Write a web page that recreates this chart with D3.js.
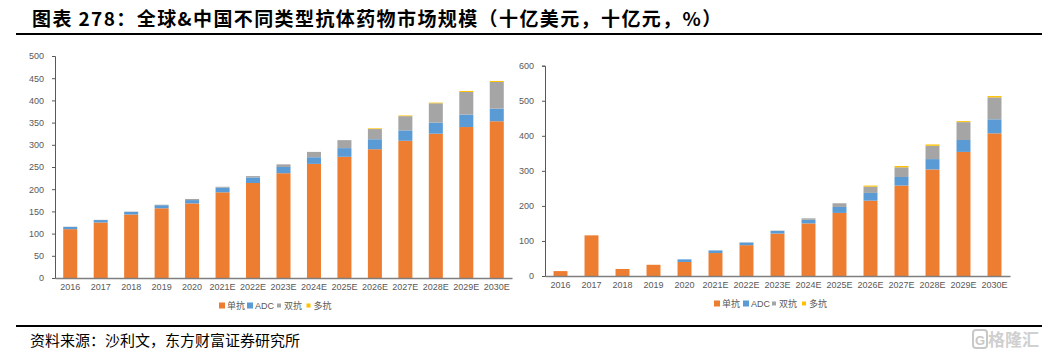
<!DOCTYPE html>
<html><head><meta charset="utf-8">
<script src="https://cdn.jsdelivr.net/npm/d3@7/dist/d3.min.js"></script>
<style>
html,body{margin:0;padding:0;background:#fff;}
svg{display:block;}
</style></head>
<body>
<svg id="c" width="1047" height="356"></svg>
<script>
const years = ["2016","2017","2018","2019","2020","2021E","2022E","2023E","2024E","2025E","2026E","2027E","2028E","2029E","2030E"];
const seriesNames = ["单抗","ADC","双抗","多抗"];
const seriesColors = ["#ED7D31","#5B9BD5","#A5A5A5","#FFC000"];

// Global (十亿美元)
const globalMono  = [110,125,143,157,168,193,214,236,257,273,290,309,325,340,353];
const globalADC   = [5,5.5,6,7,7.5,10.5,12.5,14,15,19.5,22.5,23.5,25,28,28.5];
const globalBi    = [0.5,0.5,0.5,1,2.5,2,3,6,12,18,23,32,43.5,51,60];
const globalMulti = [0,0,0,0,0,0,0,0,0,0,1.5,1.5,1.5,2.3,2.3];
const globalTicks = [0,50,100,150,200,250,300,350,400,450,500];

// China (十亿元)
const chinaMono  = [14,116,20,32,40,65.5,88,121,150,180,215,258,304,354,407];
const chinaADC   = [0,0,0,0,7.5,7.5,7.5,7.5,10.5,17,22,24.5,29.5,34,40];
const chinaBi    = [0,0,0,0,0,0,0.5,1,4,10.5,18,27.5,38,51,62.5];
const chinaMulti = [0,0,0,0,0,0,0,0,0,0,3,3.8,3.8,2.8,3.9];
const chinaTicks = [0,100,200,300,400,500,600];

const titleText = "图表 278：全球&中国不同类型抗体药物市场规模（十亿美元，十亿元，%）";
const sourceText = "资料来源：沙利文，东方财富证券研究所";

const svg = d3.select("#c");
const FONT = "'Liberation Sans', Arial, sans-serif";
const CJK = "'Noto Sans CJK SC', sans-serif";

// Title
svg.append("text").attr("x",32).attr("y",26)
  .attr("font-family",CJK).attr("font-weight",700).attr("font-size",19)
  .attr("letter-spacing",1.4)
  .attr("fill","#000").text(titleText);
svg.append("line").attr("x1",16).attr("x2",1042).attr("y1",34).attr("y2",34)
  .attr("stroke","#000").attr("stroke-width",1.8);
svg.append("line").attr("x1",16).attr("x2",1042).attr("y1",326).attr("y2",326)
  .attr("stroke","#000").attr("stroke-width",1.8);
svg.append("text").attr("x",30).attr("y",346)
  .attr("font-family",CJK).attr("font-size",15)
  .attr("fill","#000").text(sourceText);

// watermark
const wm = svg.append("g");
wm.append("rect").attr("x",973).attr("y",330).attr("width",14).attr("height",18).attr("rx",3)
  .attr("fill","none").attr("stroke","#c8c8c8").attr("stroke-width",2);
wm.append("text").attr("x",975).attr("y",345).attr("font-family",FONT).attr("font-weight",700)
  .attr("font-size",13).attr("fill","#c8c8c8").text("G");
wm.append("text").attr("x",988).attr("y",346).attr("font-family",CJK).attr("font-weight",700)
  .attr("font-size",17).attr("fill","#d0d0d0").text("格隆汇");

function drawChart(cfg){
  const g = svg.append("g");
  const x = d3.scaleBand().domain(years).range([cfg.x0,cfg.x1]).paddingInner(cfg.pad).paddingOuter(cfg.pad/2);
  const y = d3.scaleLinear().domain([0,cfg.max]).range([cfg.y0,cfg.yTop]);
  const rows = years.map((yr,i)=>{
    const o = {year:yr};
    cfg.series.forEach((s,k)=>o[seriesNames[k]] = s[i]);
    return o;
  });
  const stack = d3.stack().keys(seriesNames)(rows);
  stack.forEach((layer,k)=>{
    g.append("g").attr("fill",seriesColors[k]).selectAll("rect").data(layer).join("rect")
      .attr("x",d=>x(d.data.year))
      .attr("width",x.bandwidth())
      .attr("y",d=>y(d[1]))
      .attr("height",d=>Math.max(0,y(d[0])-y(d[1])));
  });
  // y axis
  const ya = d3.axisLeft(y).tickValues(cfg.ticks).tickSize(3).tickPadding(8);
  const yg = g.append("g").attr("transform",`translate(${cfg.x0},0)`).call(ya);
  yg.select(".domain").attr("stroke","#595959");
  yg.selectAll(".tick line").attr("stroke","#595959");
  yg.selectAll("text").attr("font-family",FONT).attr("font-size",9).attr("fill","#595959");
  // x axis
  const xa = d3.axisBottom(x).tickSize(0).tickPadding(6);
  const xg = g.append("g").attr("transform",`translate(0,${cfg.y0})`).call(xa);
  xg.select(".domain").attr("stroke","#7f7f7f").attr("stroke-width",1.5);
  xg.selectAll("text").attr("font-family",FONT).attr("font-size",9).attr("fill","#595959");
  // legend
  const lg = g.append("g");
  cfg.legendX.forEach((lx,k)=>{
    const big = k<2;
    const sz = big?6:4;
    lg.append("rect").attr("x",lx-sz/2).attr("y",cfg.legendY-sz/2).attr("width",sz).attr("height",sz)
      .attr("fill",seriesColors[k]);
    lg.append("text").attr("x",lx+5).attr("y",cfg.legendY+3.5)
      .attr("font-family",k===1?FONT:CJK).attr("font-size",9).attr("fill","#595959")
      .text(seriesNames[k]);
  });
}

drawChart({x0:55,x1:512,y0:278,yTop:56,max:500,pad:0.54,ticks:globalTicks,
  series:[globalMono,globalADC,globalBi,globalMulti],
  legendX:[222,250,279,308.5],legendY:305.5});
drawChart({x0:545,x1:1010,y0:276,yTop:65.7,max:600,pad:0.55,ticks:chinaTicks,
  series:[chinaMono,chinaADC,chinaBi,chinaMulti],
  legendX:[717,746,774,804],legendY:303.5});
</script>
</body></html>
